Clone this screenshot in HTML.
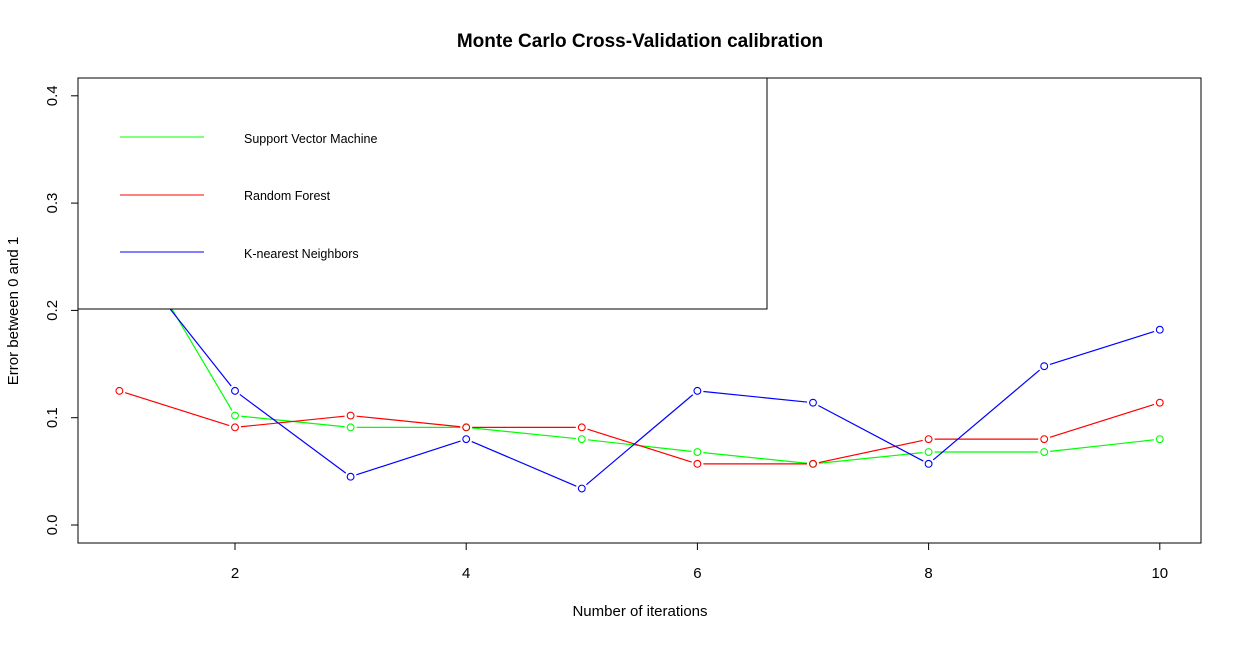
<!DOCTYPE html>
<html><head><meta charset="utf-8"><style>
body{margin:0;background:#fff;}
svg text{font-family:"Liberation Sans",Arial,sans-serif;}
</style></head><body>
<svg width="1242" height="641" xmlns="http://www.w3.org/2000/svg">
<rect width="1242" height="641" fill="#fff"/>
<text x="640" y="47" text-anchor="middle" font-size="19" font-weight="bold">Monte Carlo Cross-Validation calibration</text>
<g id="series"></g>
<rect x="78" y="78" width="1123" height="465" fill="none" stroke="#000" stroke-width="1"/>
<g id="axes"></g>
<text x="640" y="616" text-anchor="middle" font-size="15">Number of iterations</text>
<text transform="translate(18,311) rotate(-90)" text-anchor="middle" font-size="15">Error between 0 and 1</text>
<g>
<rect x="78" y="78" width="689" height="231" fill="#fff" stroke="#000" stroke-width="1"/>
<line x1="120" y1="137" x2="204" y2="137" stroke="#00ff00"/>
<text x="244" y="143" font-size="12.5">Support Vector Machine</text>
<line x1="120" y1="195" x2="204" y2="195" stroke="#ff0000"/>
<text x="244" y="200" font-size="12.5">Random Forest</text>
<line x1="120" y1="252" x2="204" y2="252" stroke="#0000ff"/>
<text x="244" y="258" font-size="12.5">K-nearest Neighbors</text>
</g>
</svg>
<script>
const iterations=[1,2,3,4,5,6,7,8,9,10];
const svm=[0.284,0.102,0.091,0.091,0.080,0.068,0.057,0.068,0.068,0.080];
const rf=[0.125,0.091,0.102,0.091,0.091,0.057,0.057,0.080,0.080,0.114];
const knn=[0.261,0.125,0.045,0.080,0.034,0.125,0.114,0.057,0.148,0.182];
const xTicks=[2,4,6,8,10];
const yTicks=["0.0","0.1","0.2","0.3","0.4"];
const NS="http://www.w3.org/2000/svg";
function sx(v){return 119.4+(v-1)*115.6;}
function sy(v){return 525-v*1073;}
function mk(t,a){const e=document.createElementNS(NS,t);for(const k in a)e.setAttribute(k,a[k]);return e;}
const ax=document.getElementById('axes');
xTicks.forEach(t=>{
 const l=mk('line',{x1:sx(t),x2:sx(t),y1:543,y2:550,stroke:'#000'});
 
 
 ax.appendChild(l);
 const tx=mk('text',{x:sx(t),y:578,'text-anchor':'middle','font-size':15});
 tx.textContent=t;
 
 
 ax.appendChild(tx);
});
yTicks.forEach(t=>{
 const y=sy(parseFloat(t));
 const l=mk('line',{x1:71,x2:78,y1:y,y2:y,stroke:'#000'});
 
 
 ax.appendChild(l);
 const tx=mk('text',{transform:`translate(57,${y}) rotate(-90)`,'text-anchor':'middle','font-size':15});
 tx.textContent=t;
 
 
 ax.appendChild(tx);
});
const sg=document.getElementById('series');
function draw(vals,color,name){
 const g=mk('g',{});
 
 
 const pts=vals.map((v,i)=>[sx(iterations[i]),sy(v)]);
 for(let i=0;i<pts.length-1;i++){
  const [x1,y1]=pts[i],[x2,y2]=pts[i+1];
  const d=Math.hypot(x2-x1,y2-y1),g0=6/d;
  const l=mk('line',{x1:x1+(x2-x1)*g0,y1:y1+(y2-y1)*g0,x2:x2-(x2-x1)*g0,y2:y2-(y2-y1)*g0,stroke:color,'stroke-width':1.2});
  
  
  g.appendChild(l);
 }
 pts.forEach(p=>{
  const c=mk('circle',{cx:p[0],cy:p[1],r:3.4,fill:'none',stroke:color,'stroke-width':1.1});
  
  
  g.appendChild(c);
 });
 sg.appendChild(g);
}
draw(svm,'#00ff00','svm');
draw(rf,'#ff0000','rf');
draw(knn,'#0000ff','knn');
</script>
</body></html>
